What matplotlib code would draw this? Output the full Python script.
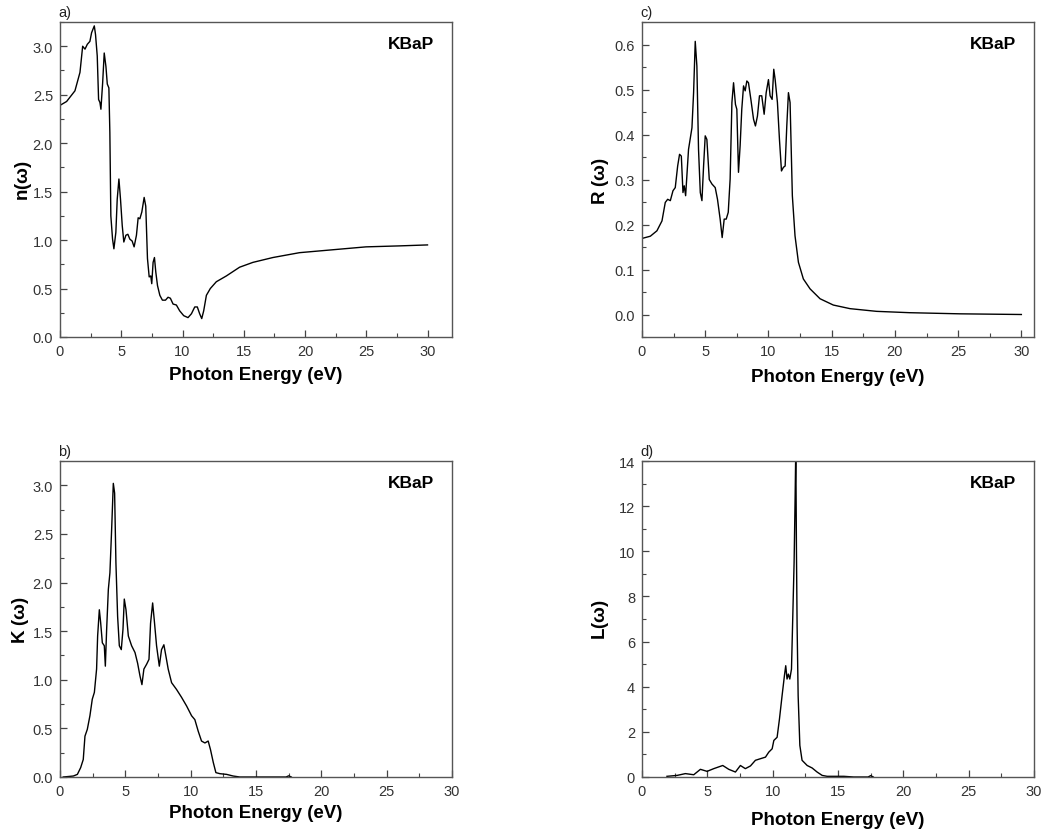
import matplotlib
matplotlib.use("Agg")
import matplotlib.pyplot as plt
from matplotlib.ticker import MultipleLocator, FormatStrFormatter

plt.rcParams['font.family'] = ['Liberation Sans', 'DejaVu Sans']

# ---- a) refractive index n(w)
n_x = [0, 0.54, 1.22, 1.63, 1.85, 2.04, 2.23, 2.44, 2.58, 2.8, 2.9, 3.04, 3.15, 3.26, 3.34, 3.48, 3.61,
       3.75, 3.86, 3.99, 4.07, 4.15, 4.29, 4.40, 4.56, 4.67, 4.81, 4.94, 5.08, 5.21, 5.38, 5.54, 5.7,
       5.89, 6.05, 6.24, 6.38, 6.52, 6.68, 6.87, 7.0, 7.14, 7.28, 7.41, 7.49, 7.6, 7.71, 7.82, 7.96,
       8.15, 8.36, 8.61, 8.82, 9.01, 9.23, 9.5, 9.77, 10.1, 10.45, 10.73, 11.0, 11.21, 11.4, 11.57,
       11.73, 11.95, 12.27, 12.76, 13.58, 14.66, 15.75, 17.38, 19.55, 22.26, 24.98, 27.7, 30.0]
n_y = [2.39, 2.43, 2.54, 2.73, 3.0, 2.97, 3.02, 3.05, 3.14, 3.21, 3.12, 2.90, 2.45, 2.42, 2.35, 2.62, 2.93,
       2.79, 2.61, 2.57, 2.11, 1.25, 1.01, 0.91, 1.08, 1.42, 1.63, 1.42, 1.15, 0.98, 1.05, 1.06, 1.01,
       0.99, 0.93, 1.05, 1.23, 1.22, 1.29, 1.44, 1.35, 0.81, 0.62, 0.63, 0.55, 0.77, 0.82, 0.67, 0.53,
       0.43, 0.38, 0.38, 0.41, 0.40, 0.34, 0.33, 0.27, 0.22, 0.20, 0.24, 0.31, 0.31, 0.24, 0.19,
       0.27, 0.43, 0.50, 0.57, 0.63, 0.72, 0.77, 0.82, 0.87, 0.90, 0.93, 0.94, 0.95]

# ---- c) reflectivity R(w)
r_x = [0, 0.66, 1.18, 1.58, 1.84, 2.03, 2.24, 2.45, 2.63, 2.82, 2.97, 3.11, 3.24, 3.34, 3.45, 3.68, 3.95,
       4.08, 4.21, 4.34, 4.47, 4.61, 4.74, 4.87, 5.0, 5.13, 5.32, 5.53, 5.79, 5.97, 6.18, 6.34, 6.5,
       6.66, 6.82, 6.97, 7.11, 7.24, 7.39, 7.5, 7.63, 7.76, 7.89, 8.03, 8.16, 8.29, 8.42, 8.61, 8.82,
       8.97, 9.13, 9.29, 9.47, 9.66, 9.82, 10.0, 10.13, 10.29, 10.42, 10.53, 10.71, 10.87, 11.03, 11.18,
       11.32, 11.45, 11.58, 11.71, 11.89, 12.1, 12.37, 12.76, 13.29, 14.08, 15.13, 16.45, 18.55, 21.18,
       25.13, 30.0]
r_y = [0.169, 0.174, 0.186, 0.208, 0.249, 0.256, 0.253, 0.275, 0.282, 0.330, 0.356, 0.352, 0.271, 0.286,
       0.264, 0.367, 0.415, 0.493, 0.607, 0.552, 0.367, 0.271, 0.253, 0.330, 0.397, 0.389, 0.300, 0.290,
       0.282, 0.256, 0.212, 0.171, 0.212, 0.212, 0.227, 0.301, 0.471, 0.515, 0.467, 0.456, 0.316, 0.375,
       0.456, 0.508, 0.497, 0.519, 0.515, 0.478, 0.434, 0.419, 0.441, 0.486, 0.486, 0.445, 0.493, 0.522,
       0.486, 0.478, 0.545, 0.522, 0.471, 0.389, 0.319, 0.327, 0.330, 0.419, 0.493, 0.471, 0.264, 0.175,
       0.116, 0.079, 0.057, 0.035, 0.021, 0.013, 0.007, 0.004, 0.0015, 0.0]

# ---- b) extinction coefficient K(w)
k_x = [0.25, 1.02, 1.33, 1.58, 1.78, 1.91, 2.09, 2.29, 2.47, 2.63, 2.8, 2.88, 3.01, 3.11, 3.24, 3.39, 3.47,
       3.57, 3.70, 3.82, 3.95, 4.08, 4.18, 4.28, 4.41, 4.54, 4.69, 4.82, 4.92, 5.05, 5.23, 5.48, 5.74,
       5.94, 6.12, 6.27, 6.42, 6.63, 6.81, 6.93, 7.09, 7.21, 7.39, 7.6, 7.77, 7.95, 8.11, 8.28, 8.54,
       8.92, 9.3, 9.69, 10.07, 10.32, 10.58, 10.83, 11.09, 11.34, 11.52, 11.73, 11.93, 12.24, 12.75,
       13.25, 13.76, 15.8, 17.3, 17.5, 17.7]
k_y = [0.0, 0.01, 0.027, 0.096, 0.18, 0.42, 0.49, 0.63, 0.80, 0.87, 1.11, 1.45, 1.72, 1.59, 1.38, 1.35, 1.14,
       1.52, 1.93, 2.10, 2.54, 3.02, 2.92, 2.20, 1.65, 1.35, 1.31, 1.52, 1.83, 1.72, 1.45, 1.35, 1.28,
       1.17, 1.04, 0.95, 1.11, 1.16, 1.21, 1.58, 1.79, 1.62, 1.35, 1.14, 1.31, 1.36, 1.24, 1.11, 0.97,
       0.90, 0.82, 0.73, 0.63, 0.59, 0.47, 0.37, 0.35, 0.37, 0.28, 0.15, 0.045, 0.034, 0.027,
       0.01, 0.0, 0.0, 0.0, 0.012, 0.0]

# ---- d) energy loss L(w)
l_x = [1.91, 2.68, 3.32, 3.96, 4.47, 4.98, 5.49, 6.18, 6.64, 7.15, 7.53, 7.91, 8.3, 8.68, 9.06, 9.45, 9.70,
       9.96, 10.09, 10.34, 10.52, 10.72, 10.9, 11.0, 11.1, 11.2, 11.31, 11.44, 11.54, 11.64, 11.72, 11.77,
       11.82, 11.87, 11.95, 12.08, 12.25, 12.64, 13.02, 13.4, 13.79, 14.17, 15.45, 16.2, 17.3, 17.5, 17.7]
l_y = [0.03, 0.07, 0.15, 0.10, 0.34, 0.25, 0.37, 0.51, 0.34, 0.22, 0.51, 0.37, 0.49, 0.74, 0.81, 0.88, 1.10,
       1.25, 1.62, 1.76, 2.57, 3.60, 4.49, 4.93, 4.34, 4.56, 4.34, 4.78, 7.13, 9.49, 12.43, 14.6,
       10.07, 6.69, 3.60, 1.40, 0.74, 0.51, 0.40, 0.22, 0.07, 0.03, 0.03, 0.0, 0.0, 0.06, 0.0]

W, H = 1042, 837
fig = plt.figure(figsize=(W / 100, H / 100), dpi=100)

def add_ax(l, r, t, b):
    return fig.add_axes([l / W, 1 - b / H, (r - l) / W, (b - t) / H])

panels = [
    dict(box=(60, 452, 23, 338), x=n_x, y=n_y, xlim=(0, 32), ylim=(0, 3.25), ymaj=0.5, ymin=0.25,
         fmt='%.1f', ylab='n', lab='a)', sep='', ylx=-0.094, xly=-0.118),
    dict(box=(642, 1034, 23, 338), x=r_x, y=r_y, xlim=(0, 31), ylim=(-0.05, 0.65), ymaj=0.1, ymin=0.05,
         fmt='%.1f', ylab='R', lab='c)', sep=' ', ylx=-0.107, xly=-0.124),
    dict(box=(60, 452, 462, 778), x=k_x, y=k_y, xlim=(0, 30), ylim=(0, 3.25), ymaj=0.5, ymin=0.25,
         fmt='%.1f', ylab='K', lab='b)', sep=' ', ylx=-0.0995, xly=-0.111),
    dict(box=(642, 1034, 462, 778), x=l_x, y=l_y, xlim=(0, 30), ylim=(0, 14), ymaj=2, ymin=1,
         fmt='%d', ylab='L', lab='d)', sep='', ylx=-0.105, xly=-0.133),
]

for p in panels:
    ax = add_ax(*p['box'])
    ax.plot(p['x'], p['y'], color='black', lw=1.0)
    ax.set_xlim(*p['xlim'])
    ax.set_ylim(*p['ylim'])
    ax.xaxis.set_major_locator(MultipleLocator(5))
    ax.xaxis.set_minor_locator(MultipleLocator(2.5))
    ax.yaxis.set_major_locator(MultipleLocator(p['ymaj']))
    ax.yaxis.set_minor_locator(MultipleLocator(p['ymin']))
    ax.yaxis.set_major_formatter(FormatStrFormatter(p['fmt']))
    ax.tick_params(which='both', direction='in', top=False, right=False, colors='#444444',
                   labelsize=10.5, labelcolor='#333333')
    ax.tick_params(which='major', length=5, width=0.9, pad=5)
    ax.tick_params(which='minor', length=3, width=0.8)
    for s in ax.spines.values():
        s.set_color('#555555')
        s.set_linewidth(1.0)
    ax.set_xlabel('Photon Energy (eV)', fontsize=13.5, fontweight='bold')
    ax.xaxis.set_label_coords(0.5, p['xly'], transform=ax.transAxes)
    ax.xaxis.label.set_va('center')
    ax.set_ylabel(p['ylab'] + p['sep'] + '(' + r'$\mathregular{\omega}$' + ')',
                  fontsize=13.5, fontweight='bold')
    ax.yaxis.set_label_coords(p['ylx'], 0.5, transform=ax.transAxes)
    ax.yaxis.label.set_va('center')
    ax.text(0.955, 0.955, 'KBaP', transform=ax.transAxes, ha='right', va='top',
            fontsize=12.5, fontweight='bold')
    ax.text(-0.005, 1.01, p['lab'], transform=ax.transAxes, ha='left', va='bottom',
            fontsize=10.5, color='#222222')

fig.savefig('out.png', dpi=100)
